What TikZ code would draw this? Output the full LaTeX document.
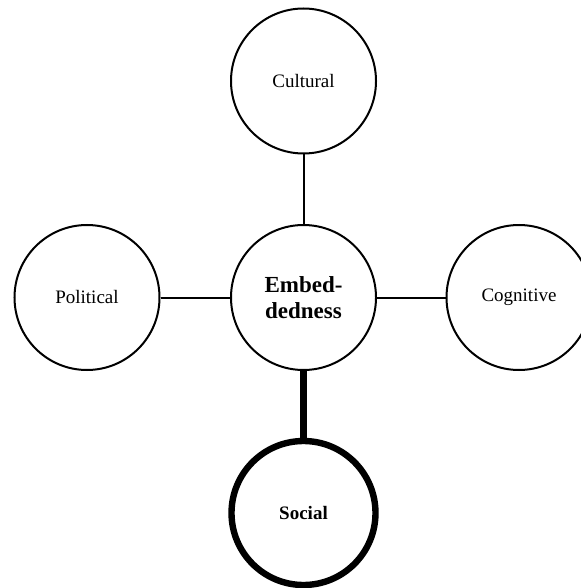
\documentclass[tikz,border=0pt]{standalone}
\usepackage{fontspec}
\setmainfont{Liberation Serif}

\begin{document}
\begin{tikzpicture}[x=0.5pt, y=-0.5pt,
	dimension/.style={shape=circle, draw, line width=1pt, minimum size=72.5pt, inner sep=0pt, align=center, font=\fontsize{9.5}{11}\selectfont},
	core/.style={dimension, font=\fontsize{11.5}{13}\selectfont\bfseries},
	strong/.style={dimension, line width=3.2pt, minimum size=72pt, font=\fontsize{9.5}{11}\selectfont\bfseries},
	link/.style={line width=1pt},
	thicklink/.style={line width=3.5pt}]
			\useasboundingbox (0, 0) rectangle (581, 588);
			\node[core] (embed) at (303.5, 297.5) {Embed-\\dedness};
			\node[dimension] (cultural) at (303.5, 81) {Cultural};
			\node[dimension] (political) at (87, 297.5) {Political};
			\node[dimension] (cognitive) at (519, 297.5) {Cognitive};
			\node[strong] (social) at (303.5, 513) {Social};
			\draw[link] (cultural) -- (embed);
			\draw[link] (political) -- (embed);
			\draw[link] (embed) -- (cognitive);
			\draw[thicklink] (embed) -- (social);
		\end{tikzpicture}
\end{document}
